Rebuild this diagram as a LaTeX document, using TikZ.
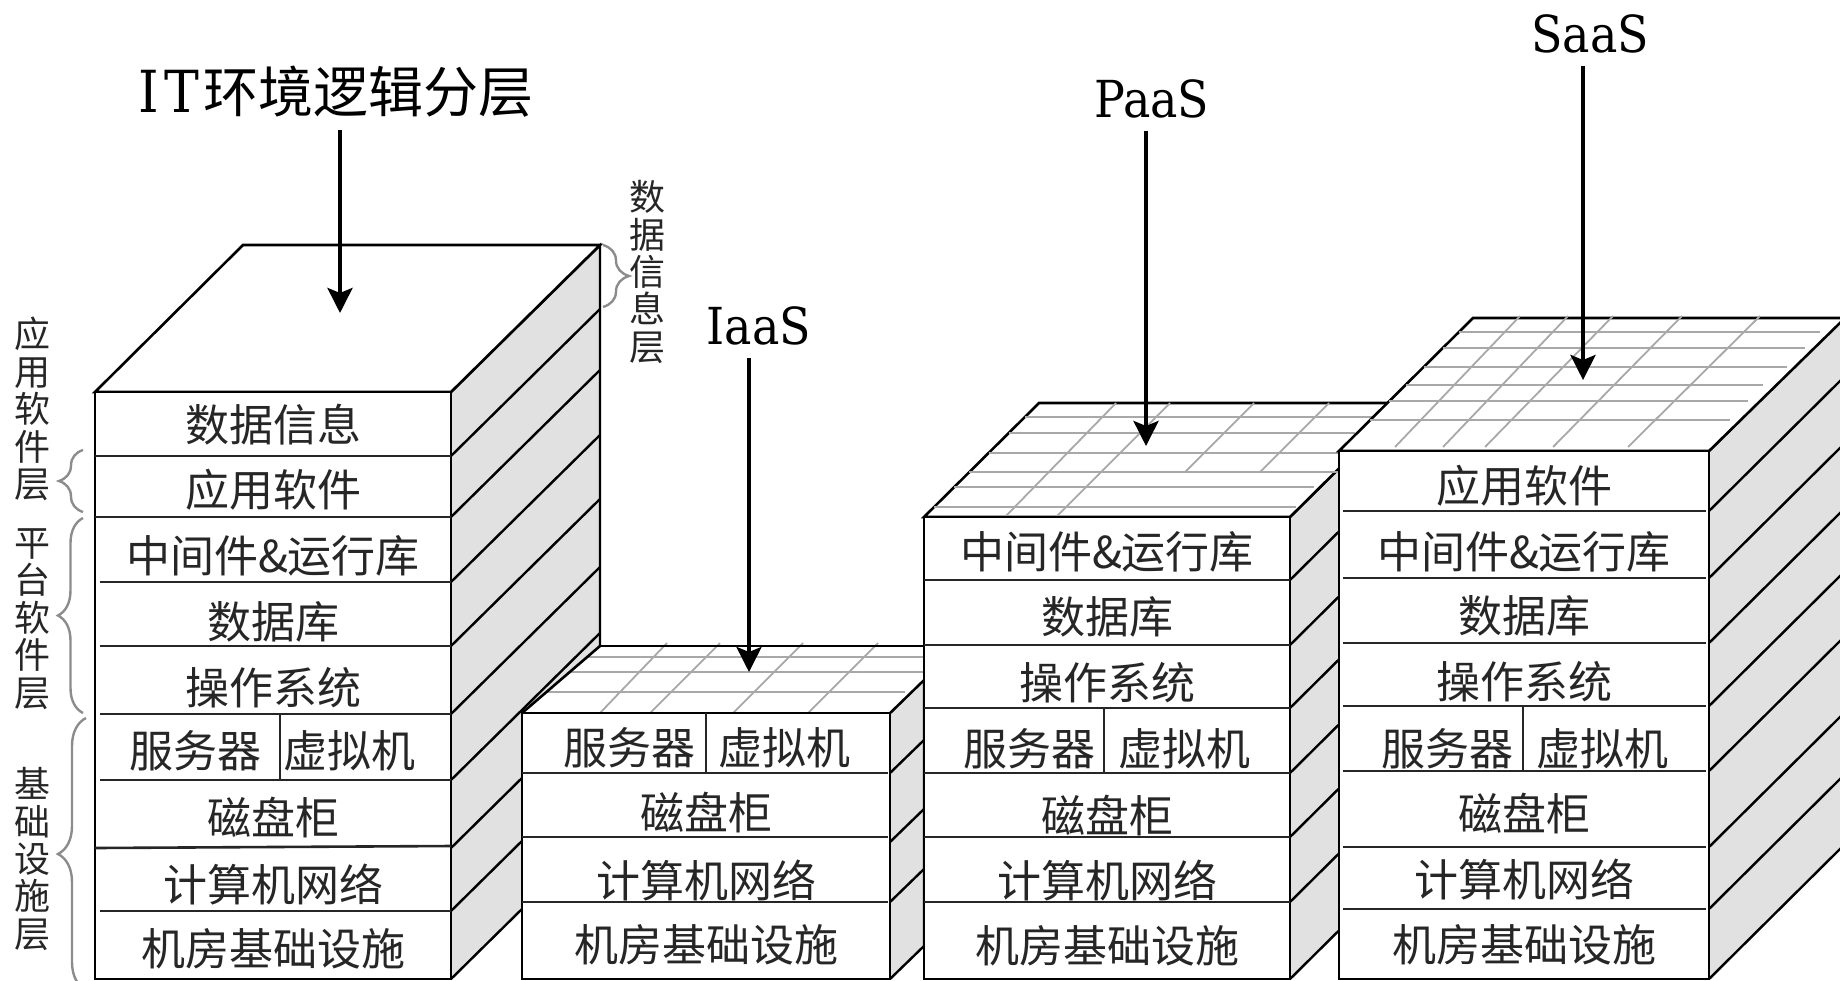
\documentclass[tikz,border=0pt]{standalone}
\usepackage{fontspec}
\usetikzlibrary{arrows.meta,decorations.pathreplacing}
\setmainfont{Noto Sans CJK SC}
\newfontfamily\latinf{DejaVu Serif Condensed}
\definecolor{sidegrey}{HTML}{E1E1E1}
\definecolor{gridgrey}{HTML}{A8A8A8}
\definecolor{bracegrey}{HTML}{8C8C8C}
\tikzset{
  edge/.style={draw=black,line width=1.3pt,line join=miter},
  rowline/.style={draw=black!85,line width=1.3pt},
  sideface/.style={draw=black,fill=sidegrey,line width=1.2pt},
  sideline/.style={draw=black,line width=1.2pt},
  gridh/.style={draw=gridgrey,line width=1.2pt},
  gridv/.style={draw=gridgrey,line width=.9pt},
  cell/.style={inner sep=0pt,font=\fontsize{22}{24}\selectfont,text=black!85},
  vlabel/.style={inner sep=0pt,align=center,font=\fontsize{18}{18.7}\selectfont,text=black!85},
  brc/.style={draw=bracegrey,line width=1.2pt,decorate,decoration={brace,amplitude=#1,aspect=0.5}},
  title/.style={inner sep=0pt,font=\fontsize{25.5}{30}\selectfont\latinf},
  point/.style={draw=black,line width=2pt,-{Stealth[length=12.5pt,width=12.5pt,inset=2.5pt]}}
}
\newcommand{\sideface}[5]{% xf, xb, top, bottom, k(dy per dx)
  \fill[sidegrey] (#1,#3) -- (#2,{#3-(#2-#1)*#5}) -- (#2,{#4-(#2-#1)*#5}) -- (#1,#4) -- cycle;
  \draw[sideface,fill=none] (#1,#3) -- (#2,{#3-(#2-#1)*#5}) -- (#2,{#4-(#2-#1)*#5});
}
\begin{document}
\begin{tikzpicture}[x=0.5pt,y=-0.5pt]
\clip (0,0) rectangle (1840,980);
% ---------- column 1
\sideface{451}{600}{392}{979}{0.985}
\foreach \y in {456,517,582,646,714,780,848,911,979} \draw[sideline] (451,\y) -- (600,{\y-147});
\draw[edge,fill=white] (95,392) -- (243,245) -- (600,245) -- (451,392) -- cycle;
\draw[edge,fill=white] (95,392) rectangle (451,979);
\foreach \y in {456,517} \draw[rowline] (95,\y) -- (451,\y);
\foreach \y in {582,646,714,780,911} \draw[rowline] (100,\y) -- (451,\y);
\draw[rowline] (95,848) -- (451,846);
\draw[rowline] (280,714) -- (280,780);
\node[cell] (a1) at (273,425) {数据信息};
\node[cell] (a2) at (273,490) {应用软件};
\node[cell] (a3) at (273,556) {中间件\&运行库};
\node[cell] (a4) at (273,622) {数据库};
\node[cell] (a5) at (273,688) {操作系统};
\node[cell] (a6) at (195,751) {服务器};
\node[cell] (a7) at (349,751) {虚拟机};
\node[cell] (a8) at (273,818) {磁盘柜};
\node[cell] (a9) at (273,884) {计算机网络};
\node[cell] (a10) at (273,949) {机房基础设施};
% ---------- IaaS column
\sideface{890}{924}{713}{979}{0.97}
\foreach \y in {773,842,902,979} \draw[sideline] (890,\y) -- (924,{\y-33});
\fill[white] (522,713) -- (600,646) -- (924,646) -- (924,680) -- (890,713) -- cycle;
\draw[sideline] (890,713) -- (924,680);
\foreach \y/\e in {657/924,672/924,692/905} \draw[gridh] ({522+(713-\y)*78/67},\y) -- (\e,\y);
\foreach \a/\b in {600/667,650/720,733/803,808/878} \draw[gridv] (\a,713) -- (\b,643);
\draw[line width=1.3pt] (600,646) -- (924,646);
\draw[edge] (522,713) -- (600,646);
\draw[edge,fill=white] (522,713) rectangle (890,979);
\foreach \y in {773,837,902} \draw[rowline] (522,\y) -- (888,\y);
\draw[rowline] (706,713) -- (706,773);
\node[cell] (b1) at (629,748) {服务器};
\node[cell] (b2) at (784,748) {虚拟机};
\node[cell] (b3) at (706,813) {磁盘柜};
\node[cell] (b4) at (706,880) {计算机网络};
\node[cell] (b5) at (706,945) {机房基础设施};
% ---------- PaaS column
\sideface{1290}{1405}{517}{979}{0.99}
\foreach \y in {580,645,708,773,837,902,979} \draw[sideline] (1290,\y) -- (1405,{\y-114});
\draw[edge,fill=white] (924,517) -- (1039,403) -- (1405,403) -- (1290,517) -- cycle;
\foreach \y/\e in {417/1375,433/1355,453/1345,472/1338,487/1314,507/1296} \draw[gridh] ({924+(517-\y)*115/114},\y) -- (\e,\y);
\draw[gridv] (1005,517) -- (1116,403);
\draw[gridv] (1056,517) -- (1170,403);
\draw[gridv] (1185,472) -- (1254,403);
\draw[gridv] (1260,472) -- (1329,403);
\draw[edge,fill=white] (924,517) rectangle (1290,979);
\foreach \y in {580,645,708,773,837,902} \draw[rowline] (924,\y) -- (1290,\y);
\draw[rowline] (1104,708) -- (1104,773);
\node[cell] (c1) at (1107,552) {中间件\&运行库};
\node[cell] (c2) at (1107,617) {数据库};
\node[cell] (c3) at (1107,683) {操作系统};
\node[cell] (c4) at (1029,749) {服务器};
\node[cell] (c5) at (1184,749) {虚拟机};
\node[cell] (c6) at (1107,816) {磁盘柜};
\node[cell] (c7) at (1107,881) {计算机网络};
\node[cell] (c8) at (1107,946) {机房基础设施};
% ---------- SaaS column
\sideface{1709}{1845}{451}{979}{0.99}
\foreach \y in {511,578,643,706,771,847,909,979} \draw[sideline] (1709,\y) -- (1845,{\y-135});
\draw[edge,fill=white] (1339,451) -- (1473,318) -- (1845,318) -- (1709,451) -- cycle;
\foreach \y/\e in {332/1820,348/1805,367/1787,385/1763,401/1748,420/1730} \draw[gridh] ({1339+(451-\y)*134/133},\y) -- (\e,\y);
\foreach \a/\b in {1395/1520,1443/1568,1485/1613,1553/1682,1628/1760} \draw[gridv] (\a,447) -- (\b,316);
\draw[edge,fill=white] (1339,451) rectangle (1709,979);
\foreach \y in {511,578,643,706,771,847,909} \draw[rowline] (1343,\y) -- (1706,\y);
\draw[rowline] (1523,706) -- (1523,771);
\node[cell] (d1) at (1524,486) {应用软件};
\node[cell] (d2) at (1524,552) {中间件\&运行库};
\node[cell] (d3) at (1524,616) {数据库};
\node[cell] (d4) at (1524,682) {操作系统};
\node[cell] (d5) at (1447,749) {服务器};
\node[cell] (d6) at (1602,749) {虚拟机};
\node[cell] (d7) at (1524,814) {磁盘柜};
\node[cell] (d8) at (1524,879) {计算机网络};
\node[cell] (d9) at (1524,945) {机房基础设施};
% ---------- side labels and braces
\node[vlabel] (l1) at (32,409) {应\\用\\软\\件\\层};
\node[vlabel] (l2) at (32,619) {平\\台\\软\\件\\层};
\node[vlabel] (l3) at (32,859) {基\\础\\设\\施\\层};
\node[vlabel] (l4) at (647,272) {数\\据\\信\\息\\层};
\draw[brc=12pt] (83,512) -- (83,450);
\draw[brc=12.5pt] (83,713) -- (83,518);
\draw[brc=14pt] (86,990) -- (86,718);
\draw[brc=13pt] (603,245) -- (603,307);
% ---------- titles and arrows
\node[title,font=\fontsize{27.5}{30}\selectfont] (t1) at (336,92) {{\latinf\fontsize{29}{30}\selectfont I\kern3pt T\kern2pt}环境逻辑分层};
\node[title] (t2) at (759,326) {IaaS};
\node[title] (t3) at (1152,99) {PaaS};
\node[title] (t4) at (1590,34) {SaaS};
\coordinate (p1) at (340,313);
\coordinate (p2) at (749,672);
\coordinate (p3) at (1146,446);
\coordinate (p4) at (1583,380);
\draw[point,shorten <=6pt] (t1.south -| p1) -- (p1);
\draw[point,shorten <=6pt] (t2.south -| p2) -- (p2);
\draw[point,shorten <=6pt] (t3.south -| p3) -- (p3);
\draw[point,shorten <=6pt] (t4.south -| p4) -- (p4);
\end{tikzpicture}
\end{document}
